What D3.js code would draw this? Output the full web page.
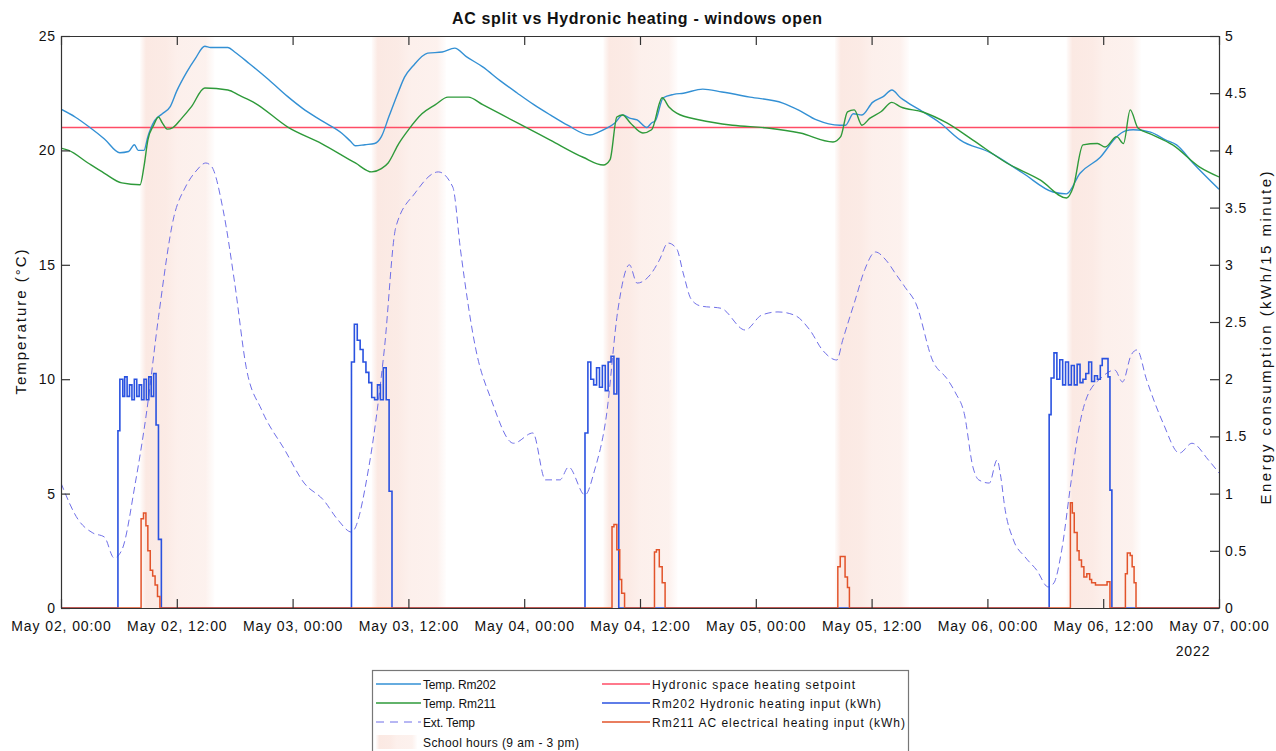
<!DOCTYPE html>
<html>
<head>
<meta charset="utf-8">
<script src="https://cdn.jsdelivr.net/npm/d3@7"></script>
<style>
  html, body { margin: 0; padding: 0; background: #fff; }
  svg { display: block; font-family: "Liberation Sans", Arial, sans-serif; }
</style>
</head>
<body>
<svg id="chart" width="1276" height="751"></svg>
<script>
// ---------------- DATA (hours since 2022-05-02 00:00) ----------------
const title = "AC split vs Hydronic heating - windows open";
const leftLabel = "Temperature (°C)";
const rightLabel = "Energy consumption (kWh/15 minute)";
const tempTicks = [0, 5, 10, 15, 20, 25];
const energyTicks = [0, 0.5, 1, 1.5, 2, 2.5, 3, 3.5, 4, 4.5, 5];
const xTickHours = [0, 12, 24, 36, 48, 60, 72, 84, 96, 108, 120];
const xTickLabels = ["May 02, 00:00", "May 02, 12:00", "May 03, 00:00", "May 03, 12:00",
  "May 04, 00:00", "May 04, 12:00", "May 05, 00:00", "May 05, 12:00",
  "May 06, 00:00", "May 06, 12:00", "May 07, 00:00"];
const yearLabel = "2022";
const setpoint = 21;
const schoolDays = [0, 1, 2, 3, 4];        // day offsets
const schoolHours = [9, 15];              // 9 am - 3 pm

const rm202Temp = [[0,21.8],[1.5,21.45],[3,21.0],[4.5,20.5],[6.1,19.9],[7,19.95],[7.6,20.25],[8,20.0],[8.6,20.0],[9.0,20.6],[9.7,21.3],[10.5,21.6],[11.3,21.9],[12,22.6],[13,23.4],[13.9,24.0],[14.9,24.55],[15.5,24.5],[17.3,24.5],[18,24.3],[19.5,23.8],[21.5,23.1],[23.5,22.35],[25,21.85],[27,21.3],[29.1,20.75],[30,20.4],[30.5,20.2],[31.5,20.25],[32.5,20.3],[33.2,20.6],[34,21.5],[35,22.6],[35.6,23.2],[36.5,23.7],[38,24.25],[39.5,24.3],[40.8,24.47],[42,24.1],[43.7,23.65],[45.5,23.05],[47.3,22.5],[49,22.0],[50.7,21.55],[52.5,21.1],[54.8,20.67],[55.7,20.8],[56.6,20.98],[57.4,21.2],[58.2,21.55],[59,21.4],[59.7,21.33],[60.7,21.0],[61.2,21.2],[61.6,21.3],[62.4,22.3],[63.5,22.45],[64.5,22.5],[66.5,22.68],[68.5,22.55],[71.4,22.33],[74.8,22.07],[76.5,21.75],[78.3,21.33],[80.7,21.1],[81.3,21.1],[82.1,21.6],[83,21.55],[84.1,22.1],[85.2,22.35],[86.1,22.64],[87,22.3],[87.7,22.1],[89,21.77],[91.1,21.2],[93.2,20.45],[96.3,19.9],[99.7,19.0],[102.8,18.18],[104.2,18.1],[105.6,19.0],[107.7,19.7],[109.4,20.6],[110.3,20.85],[111.1,20.9],[112.9,20.8],[114.5,20.45],[115.6,20.24],[117.3,19.45],[120,18.3]];

const rm211Temp = [[0,20.1],[0.8,20.0],[2.8,19.45],[4.5,19.0],[6.3,18.58],[8.2,18.5],[8.6,19.3],[9.0,20.45],[9.6,21.1],[10.1,21.46],[10.5,21.2],[11,20.93],[11.6,21.0],[12.5,21.4],[13.5,21.9],[14.9,22.73],[17.3,22.64],[18.5,22.4],[20.1,22.07],[23.5,21.02],[27,20.3],[30.5,19.45],[32.2,19.06],[33.2,19.2],[33.9,19.45],[35,20.3],[36,20.9],[37.4,21.6],[38.8,22.0],[40.1,22.33],[42.2,22.33],[43.7,22.0],[47.3,21.2],[50.7,20.45],[54.1,19.7],[56.2,19.36],[56.9,19.6],[57.6,21.46],[58.2,21.55],[59,21.2],[60.3,20.76],[61.2,20.9],[62.3,22.3],[63,21.9],[63.8,21.63],[66.2,21.33],[69.6,21.1],[73.2,20.98],[76.6,20.76],[80,20.37],[80.8,20.6],[81.5,21.68],[82.2,21.77],[83,21.1],[83.8,21.4],[85,21.7],[86.1,22.1],[87,21.9],[89.3,21.68],[91.8,21.2],[94.5,20.45],[98,19.45],[101.5,18.7],[104.2,17.92],[104.9,18.4],[105.9,20.24],[107.4,20.3],[108.2,20.15],[109.4,20.6],[110.1,20.3],[110.8,21.77],[111.6,20.98],[113,20.7],[115.2,20.24],[118,19.27],[120,18.84]];

const extTemp = [[0,5.46],[1.8,3.85],[3.3,3.28],[4.5,3.1],[5.5,2.19],[6.3,2.53],[7.7,5.46],[8.9,8.65],[10.1,12.7],[11.7,17.1],[12.9,18.4],[14,19.1],[15,19.45],[15.6,19.3],[16.8,17.4],[18,14.2],[19.2,10.5],[20.8,8.65],[23.2,6.9],[25.2,5.46],[27.2,4.72],[28.7,3.85],[30.1,3.32],[31.9,6.16],[33.5,11.28],[34.7,16.65],[36.7,18.14],[39.1,19.06],[40.6,18.4],[41.4,15.65],[43,11.28],[44.6,9.09],[46.9,7.2],[48.9,7.65],[50.2,5.6],[51.7,5.6],[52.6,6.16],[54.3,4.94],[55.3,6.03],[56.5,8.35],[57.7,13.0],[58.9,15.0],[59.7,14.2],[61.2,14.64],[62,15.2],[62.9,15.95],[63.8,15.7],[64.5,14.6],[65.3,13.5],[66.3,13.2],[68.4,13.1],[70.9,12.15],[72.6,12.8],[74.3,12.94],[76,12.8],[77.6,12.15],[78.9,11.28],[80.4,10.84],[81,11.7],[82.3,13.46],[83.3,14.8],[84.4,15.56],[85.5,15.2],[86.5,14.6],[87.5,14.0],[88.6,13.3],[90.3,10.84],[91.9,9.97],[92.7,9.4],[93.6,8.5],[94.5,6.16],[95.1,5.6],[96.2,5.46],[97,6.47],[97.4,5.7],[97.8,4.4],[98.7,2.97],[99.9,2.23],[101.1,1.66],[102.3,0.92],[102.9,1.1],[103.7,2.53],[104.6,5.3],[105.4,7.65],[106.2,9.09],[107.9,10.1],[109.2,10.4],[110,9.88],[110.9,11.06],[111.5,11.28],[112.5,9.97],[114.2,8.09],[115.9,6.77],[117.2,7.2],[118.9,6.47],[120,5.9]];

const hydronicKWh = [[0,0],[5.8,0],[5.9,1.55],[6.1,2.0],[6.4,1.85],[6.6,2.02],[6.85,1.85],[7.1,1.95],[7.35,1.82],[7.6,2.0],[7.85,1.85],[8.1,1.95],[8.35,1.82],[8.6,2.0],[8.85,1.82],[9.1,2.02],[9.35,1.85],[9.6,2.05],[9.85,1.6],[10.1,0.6],[10.4,0],
[30.0,0],[30.1,2.15],[30.4,2.48],[30.7,2.34],[31.0,2.26],[31.3,2.15],[31.6,2.06],[31.9,1.97],[32.2,1.84],[32.5,1.82],[32.8,1.95],[33.1,1.82],[33.4,2.1],[33.7,1.82],[34.0,1.02],[34.3,0],
[54.2,0],[54.3,1.53],[54.6,2.15],[54.9,2.0],[55.2,1.95],[55.5,2.1],[55.8,1.93],[56.1,2.12],[56.4,1.9],[56.7,2.15],[57.0,2.2],[57.3,1.87],[57.6,2.18],[57.8,0],
[102.3,0],[102.4,1.69],[102.6,2.01],[102.9,2.23],[103.2,2.0],[103.5,2.17],[103.8,1.95],[104.1,2.15],[104.4,1.95],[104.7,2.12],[105.0,1.95],[105.3,2.13],[105.6,1.97],[105.9,2.0],[106.2,2.05],[106.5,2.15],[106.8,1.98],[107.1,2.03],[107.4,2.0],[107.7,2.12],[107.9,2.18],[108.3,2.18],[108.5,2.02],[108.7,1.03],[108.9,0],[120,0]];

const acKWh = [[0,0],[8.2,0],[8.3,0.78],[8.55,0.83],[8.8,0.72],[9.0,0.5],[9.25,0.33],[9.5,0.28],[9.75,0.2],[10.0,0.1],[10.25,0],
[57.0,0],[57.1,0.71],[57.3,0.73],[57.6,0.51],[57.9,0.25],[58.1,0.13],[58.4,0],
[61.4,0],[61.5,0.49],[61.7,0.51],[62.0,0.36],[62.3,0.22],[62.6,0],
[80.4,0],[80.5,0.36],[80.75,0.45],[81.0,0.45],[81.25,0.27],[81.5,0.18],[81.7,0],
[104.5,0],[104.6,0.92],[104.8,0.83],[105.0,0.66],[105.3,0.5],[105.5,0.42],[105.75,0.36],[106.0,0.27],[106.3,0.3],[106.6,0.25],[106.8,0.22],[107.2,0.2],[107.7,0.2],[108.1,0.2],[108.4,0.23],[108.7,0],
[110.2,0],[110.3,0.3],[110.5,0.48],[110.8,0.46],[111.0,0.36],[111.2,0.22],[111.4,0],[120,0]];

const legendLabels = ["Temp. Rm202", "Temp. Rm211", "Ext. Temp", "School hours (9 am - 3 pm)",
  "Hydronic space heating setpoint", "Rm202 Hydronic heating input (kWh)", "Rm211 AC electrical heating input (kWh)"];
const legendKeys = ["rm202", "rm211", "ext", "school", "set", "hyd", "ac"];

// ---------------- STYLE ----------------
const colors = {
  rm202: "#3390d4", rm211: "#2e9a3a", ext: "#6f6fe8", set: "#ff4d66",
  hyd: "#2a52e0", ac: "#e2532a", school: "#f9ddd4"
};
const legendTextWidths = [73, 73, 52, 156, 203, 229, 253];
const plot = {left: 61, right: 1219, top: 36, bottom: 608};

const svg = d3.select("#chart");
const t0 = new Date(2022, 4, 2, 0, 0, 0);
const toDate = h => new Date(t0.getTime() + h * 3600e3);

const x = d3.scaleTime().domain([toDate(0), toDate(120)]).range([plot.left, plot.right]);
const yT = d3.scaleLinear().domain([0, 25]).range([plot.bottom, plot.top]);
const yE = d3.scaleLinear().domain([0, 5]).range([plot.bottom, plot.top]);

const defs = svg.append("defs");
const grad = defs.append("linearGradient").attr("id", "schoolGrad").attr("x1", "0").attr("x2", "1").attr("y1", "0").attr("y2", "0");
[[0, 0.1], [0.08, 0.65], [0.35, 0.6], [0.5, 0.45], [0.88, 0.4], [1, 0.05]].forEach(([o, a]) =>
  grad.append("stop").attr("offset", o).attr("stop-color", colors.school).attr("stop-opacity", a));

defs.append("clipPath").attr("id", "plotClip").append("rect")
  .attr("x", plot.left).attr("y", plot.top)
  .attr("width", plot.right - plot.left).attr("height", plot.bottom - plot.top);

// School hours shading
svg.append("g").selectAll("rect").data(schoolDays).join("rect")
  .attr("x", d => x(toDate(d * 24 + schoolHours[0] - 0.8)))
  .attr("width", d => x(toDate(d * 24 + schoolHours[1] + 0.9)) - x(toDate(d * 24 + schoolHours[0] - 0.8)))
  .attr("y", plot.top).attr("height", plot.bottom - plot.top)
  .attr("fill", "url(#schoolGrad)");

const g = svg.append("g").attr("clip-path", "url(#plotClip)");

// Setpoint
g.append("line").attr("x1", plot.left).attr("x2", plot.right)
  .attr("y1", yT(setpoint)).attr("y2", yT(setpoint))
  .attr("stroke", colors.set).attr("stroke-width", 1.4);

const lineT = d3.line().x(d => x(toDate(d[0]))).y(d => yT(d[1])).curve(d3.curveMonotoneX);
const lineE = d3.line().x(d => x(toDate(d[0]))).y(d => yE(d[1])).curve(d3.curveStepAfter);

g.append("path").datum(extTemp).attr("d", lineT).attr("fill", "none")
  .attr("stroke", colors.ext).attr("stroke-width", 1).attr("stroke-dasharray", "7,4");
g.append("path").datum(hydronicKWh).attr("d", lineE).attr("fill", "none")
  .attr("stroke", colors.hyd).attr("stroke-width", 1.6);
g.append("path").datum(acKWh).attr("d", lineE).attr("fill", "none")
  .attr("stroke", colors.ac).attr("stroke-width", 1.5);
g.append("path").datum(rm202Temp).attr("d", lineT).attr("fill", "none")
  .attr("stroke", colors.rm202).attr("stroke-width", 1.4);
g.append("path").datum(rm211Temp).attr("d", lineT).attr("fill", "none")
  .attr("stroke", colors.rm211).attr("stroke-width", 1.4);

// Axes
const xTicks = xTickHours.map(toDate);
const fmt = d => xTickLabels[xTickHours.indexOf(Math.round((d - t0) / 3600e3))];
const axisColor = "#333";
function styleAxis(sel) {
  sel.select(".domain").attr("stroke", axisColor).attr("stroke-width", 1.2);
  sel.selectAll(".tick line").attr("stroke", axisColor).attr("stroke-width", 1.2);
  sel.selectAll(".tick text").attr("fill", "#111").style("font-size", "14px").style("letter-spacing", "0.9px");
}
svg.append("g").attr("transform", `translate(0,${plot.bottom})`)
  .call(d3.axisBottom(x).tickValues(xTicks).tickFormat(fmt).tickSize(-9).tickPadding(13).tickSizeOuter(0))
  .call(styleAxis);
svg.append("g").attr("transform", `translate(0,${plot.top})`)
  .call(d3.axisTop(x).tickValues(xTicks).tickFormat("").tickSize(-9).tickSizeOuter(0))
  .call(styleAxis);
svg.append("g").attr("transform", `translate(${plot.left},0)`)
  .call(d3.axisLeft(yT).tickValues(tempTicks).tickFormat(d3.format("d")).tickSize(-9).tickPadding(5).tickSizeOuter(0))
  .call(styleAxis);
svg.append("g").attr("transform", `translate(${plot.right},0)`)
  .call(d3.axisRight(yE).tickValues(energyTicks).tickFormat(d => String(d)).tickSize(-9).tickPadding(6).tickSizeOuter(0))
  .call(styleAxis);

svg.append("text").attr("x", 1193).attr("y", 656)
  .attr("text-anchor", "middle").style("font-size", "14px").style("letter-spacing", "0.9px")
  .attr("fill", "#111").text(yearLabel);

// Titles
svg.append("text").attr("x", 637).attr("y", 24).attr("text-anchor", "middle")
  .style("font-size", "16px").style("font-weight", "bold").attr("fill", "#111")
  .attr("textLength", 370).attr("lengthAdjust", "spacing").text(title);
svg.append("text").attr("transform", "translate(26,322) rotate(-90)").attr("text-anchor", "middle")
  .style("font-size", "15px").attr("fill", "#111")
  .attr("textLength", 145).attr("lengthAdjust", "spacing").text(leftLabel);
svg.append("text").attr("transform", "translate(1271,338) rotate(-90)").attr("text-anchor", "middle")
  .style("font-size", "15px").attr("fill", "#111")
  .attr("textLength", 333).attr("lengthAdjust", "spacing").text(rightLabel);

// Legend
const lg = svg.append("g");
lg.append("rect").attr("x", 372.5).attr("y", 670.5).attr("width", 536).attr("height", 95)
  .attr("fill", "#fff").attr("stroke", "#777").attr("stroke-width", 1.2);
const rowsY = [684, 703, 722, 742];
const colX = [{lx1: 376, lx2: 421, tx: 423}, {lx1: 602, lx2: 650, tx: 652}];
legendLabels.forEach((label, i) => {
  const key = legendKeys[i];
  const col = i < 4 ? 0 : 1;
  const row = i < 4 ? i : i - 4;
  const c = colX[col], yy = rowsY[row];
  if (key === "school") {
    lg.append("rect").attr("x", c.lx1).attr("y", yy - 7).attr("width", c.lx2 - c.lx1 - 4).attr("height", 14)
      .attr("fill", "url(#schoolGrad)");
  } else {
    lg.append("line").attr("x1", c.lx1).attr("x2", c.lx2).attr("y1", yy).attr("y2", yy)
      .attr("stroke", colors[key]).attr("stroke-width", key === "ext" ? 1 : 1.5)
      .attr("stroke-dasharray", key === "ext" ? "8,6" : null);
  }
  lg.append("text").attr("x", c.tx).attr("y", yy + 4.5).style("font-size", "12px").attr("fill", "#111")
    .attr("textLength", legendTextWidths[i]).attr("lengthAdjust", "spacing").text(label);
});
</script>
</body>
</html>
